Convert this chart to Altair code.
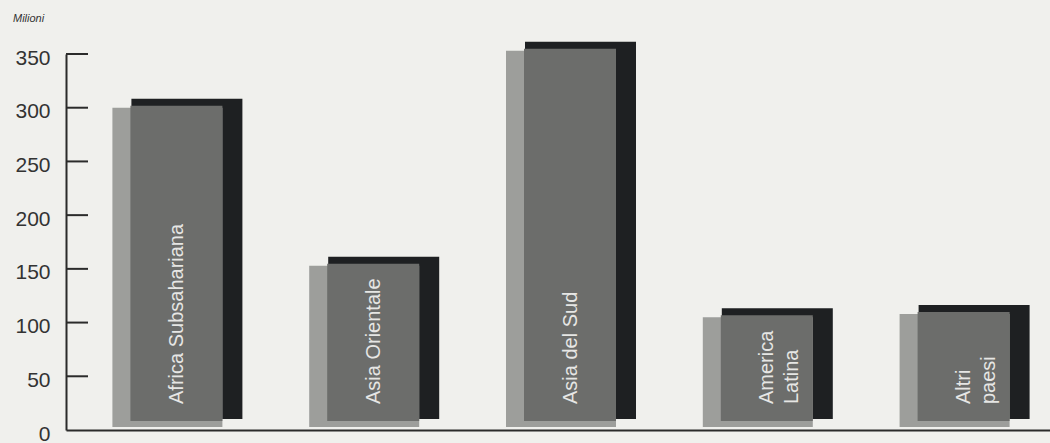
import altair as alt
import pandas as pd

# Poverty by region, millions of people
regioni = ["Africa Subsahariana", "Asia Orientale", "Asia del Sud", "America Latina", "Altri paesi"]
etichette = ["Africa Subsahariana", "Asia Orientale", "Asia del Sud", "America\nLatina", "Altri\npaesi"]
milioni = [300, 153, 353, 105, 108]
tick_valori = [50, 100, 150, 200, 250, 300, 350]
asse_valori = [0, 50, 100, 150, 200, 250, 300, 350]

CHIARO = "#9d9e9b"
MEDIO = "#6c6d6b"
SCURO = "#1e2022"
INCHIOSTRO = "#2b2b2b"
CARTA = "#f0f0ed"

df = pd.DataFrame({"regione": regioni, "etichetta": etichette, "milioni": milioni})
ticks = pd.DataFrame({"v": tick_valori})

x_enc = alt.X(
    "regione:N",
    sort=None,
    scale=alt.Scale(paddingInner=0, paddingOuter=0),
    axis=alt.Axis(labels=False, ticks=False, title=None, domain=True,
                  domainColor=INCHIOSTRO, domainWidth=2, grid=False),
)
y_scale = alt.Scale(domain=[0, 350], nice=False)
y_enc = alt.Y(
    "milioni:Q",
    scale=y_scale,
    axis=alt.Axis(values=asse_valori, ticks=False, grid=False, title=None,
                  domainColor=INCHIOSTRO, domainWidth=2,
                  labelFont="Liberation Sans", labelFontSize=21,
                  labelColor="#333333", labelPadding=16, labelOffset=4),
)

base = alt.Chart(df)

# shadow block behind, shifted right and up
ombra = base.mark_bar(color=SCURO, width=111, xOffset=22.5, yOffset=-9, y2Offset=-11).encode(
    x=x_enc, y=y_enc, y2=alt.datum(0)
)
# light front panel
fronte = base.mark_bar(color=CHIARO, width=110, xOffset=3, y2Offset=-3).encode(
    x=x_enc, y=y_enc, y2=alt.datum(0)
)
# mid-grey face where the two overlap
faccia = base.mark_bar(color=MEDIO, width=92, xOffset=12, yOffset=-2, y2Offset=-9).encode(
    x=x_enc, y=y_enc, y2=alt.datum(0)
)

nomi = base.mark_text(
    angle=270, align="left", baseline="middle", xOffset=12.5, yOffset=-26,
    lineBreak="\n", lineHeight=25, font="Liberation Sans", fontSize=20, color="#e6e6e4",
).encode(x=x_enc, y=alt.datum(0), text="etichetta:N")

tacche = alt.Chart(ticks).mark_rule(color=INCHIOSTRO, strokeWidth=2).encode(
    y=alt.Y("v:Q", scale=y_scale), x=alt.value(0), x2=alt.value(22)
)

unita = alt.Chart(pd.DataFrame({"t": ["Milioni"]})).mark_text(
    align="left", baseline="middle", font="Liberation Sans", fontSize=11,
    fontStyle="italic", color="#333333",
).encode(x=alt.value(-53), y=alt.value(-35), text="t:N")

chart = (
    alt.layer(ombra, fronte, faccia, nomi, tacche, unita)
    .properties(
        width=984, height=376,
        autosize=alt.AutoSizeParams(type="none"),
        padding={"left": 66, "top": 54, "right": 0, "bottom": 13},
        background=CARTA,
    )
    .configure_view(stroke=None)
)

chart.save("out.html", embed_options={"renderer": "svg", "actions": False})
